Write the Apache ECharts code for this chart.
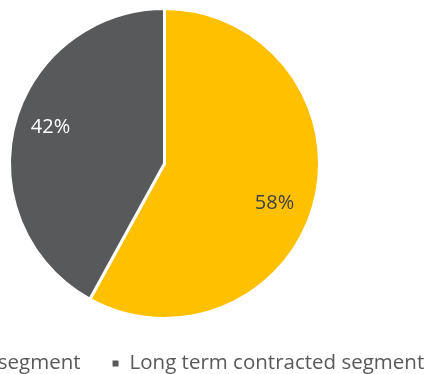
<!DOCTYPE html>
<html>
<head>
<meta charset="utf-8">
<style>
  html, body { margin: 0; padding: 0; background: #ffffff; }
  #chart { width: 432px; height: 374px; }
</style>
<script src="https://cdn.jsdelivr.net/npm/echarts@6/dist/echarts.min.js"></script>
</head>
<body>
<div id="chart"></div>
<script>
// Revenue split between the two business segments (percent)
const segments = ['Spot and short term segment', 'Long term contracted segment'];
const shares = [58, 42];
const colors = ['#FFC000', '#58595B'];
const labelColors = ['#404040', '#ffffff'];
const labelOffsets = [[32, 20], [-36, -16]];

const chart = echarts.init(document.getElementById('chart'), null, { renderer: 'canvas' });

chart.setOption({
  animation: false,
  legend: {
    data: segments,
    orient: 'horizontal',
    left: -224,
    top: 348,
    width: 1000,
    itemWidth: 8,
    itemHeight: 8,
    itemGap: 30,
    icon: 'rect',
    textStyle: {
      fontFamily: 'Open Sans',
      fontSize: 20.5,
      color: '#595959',
      padding: [0, 0, 0, 5]
    }
  },
  series: [{
    type: 'pie',
    center: [164.5, 163.5],
    radius: 155,
    startAngle: 90,
    clockwise: true,
    avoidLabelOverlap: false,
    itemStyle: { borderColor: '#ffffff', borderWidth: 3 },
    label: {
      show: true,
      position: 'inside',
      fontFamily: 'Open Sans',
      fontSize: 20,
      formatter: p => p.value + '%'
    },
    labelLine: { show: false },
    emphasis: { disabled: true },
    data: segments.map((name, i) => ({
      name: name,
      value: shares[i],
      itemStyle: { color: colors[i] },
      label: { color: labelColors[i], offset: labelOffsets[i] }
    }))
  }]
});
</script>
</body>
</html>
